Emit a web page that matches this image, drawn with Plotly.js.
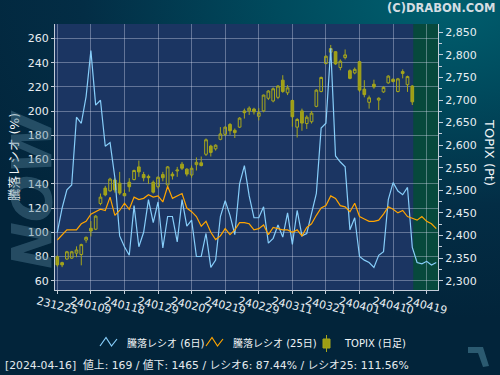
<!DOCTYPE html>
<html><head><meta charset="utf-8">
<script src="https://cdn.plot.ly/plotly-3.0.1.min.js"></script>
<style>
html,body{margin:0;padding:0;}
body{width:500px;height:375px;overflow:hidden;background:radial-gradient(ellipse 110% 85% at 88% 0%, #00606f 0%, #004a5d 30%, #032d45 65%, #02243a 100%);}
#chart{width:500px;height:375px;}
</style></head><body><div id="chart"></div>
<script>
const dates = ['231225','231226','231227','231228','231229','240104','240105','240109','240110','240111','240112','240115','240116','240117','240118','240119','240122','240123','240124','240125','240126','240129','240130','240131','240201','240202','240205','240206','240207','240208','240209','240213','240214','240215','240216','240219','240220','240221','240222','240226','240227','240228','240229','240301','240304','240305','240306','240307','240308','240311','240312','240313','240314','240315','240318','240319','240321','240322','240325','240326','240327','240328','240329','240401','240402','240403','240404','240405','240408','240409','240410','240411','240412','240415','240416','240417','240418','240419','240422','240423'];

const ratio6 = [100,120,135,139,195,190,212,250,205,209,
 171,174,145,97,88,81,122,88,100,127,
 108,125,87,113,113,92,127,105,110,80,
 80,99,71,77,113,126,114,98,140,155,
 130,112,112,121,91,95,106,96,116,90,
 118,97,99,115,132,186,190,252,163,158,
 154,102,112,80,77,75,71,81,84,127,
 141,134,131,137,87.44,75,74,76,73,75];

const ratio25 = [93.6,97.5,102,102,102,107,109,115,117,119,
 118,129,114,118,124,119,129,127,128,131,
 129,130,125,138,128,130,132,120,117,113,
 105,109,100,94,97,103,98,102,108,108,
 107,102,103,106,98,104,103,102,102,100,
 102,97,104,107,114,120,122,130,128,122,
 121,117,124,113,111,109,109,110,115,121,
 119,116,118,113,111.56,110,113,109,107,103];

const topixOpen = [2353,2340,2348,2350,2361,2358,2390,2416,2414,2471,
 2505,2499,2523,2516,2493,2518,2524,2552,2535,2531,
 2518,2508,2535,2512,2536,2543,2558,2547,2534,2557,
 2561,2580,2598,2592,2613,2624,2646,2633,2640,2676,
 2676,2680,2664,2676,2704,2698,2706,2744,2716,2699,
 2640,2676,2648,2652,2686,2719,2781,2806,2807,2772,
 2794,2765,2760,2785,2724,2695,2735,2700,2718,2738,
 2746,2719,2763,2734,2731];
const topixHigh = [2356,2342,2366,2366,2376,2382,2398,2432,2445,2493,
 2510,2528,2527,2541,2502,2527,2546,2566,2541,2535,
 2522,2531,2541,2554,2541,2552,2563,2549,2555,2573,
 2575,2615,2601,2602,2640,2642,2649,2637,2662,2681,
 2686,2683,2682,2712,2722,2728,2733,2755,2733,2701,
 2660,2681,2666,2676,2724,2752,2799,2822,2808,2790,
 2812,2768,2772,2786,2744,2710,2745,2706,2731,2755,
 2748,2749,2768,2754,2733];
const topixLow = [2331,2330,2346,2348,2352,2334,2384,2398,2412,2467,
 2487,2497,2495,2490,2488,2497,2522,2530,2520,2514,
 2493,2504,2520,2510,2524,2530,2545,2531,2528,2544,
 2553,2576,2575,2588,2611,2620,2623,2616,2638,2659,
 2667,2668,2655,2673,2700,2695,2702,2716,2711,2641,
 2617,2632,2636,2648,2684,2717,2779,2800,2778,2766,
 2790,2746,2757,2718,2706,2681,2725,2678,2716,2736,
 2739,2717,2748,2718,2689];
const topixClose = [2335,2335,2364,2364,2368,2380,2396,2410,2443,2485,
 2490,2525,2501,2494,2488,2508,2544,2541,2528,2528,
 2496,2529,2528,2552,2532,2545,2549,2536,2549,2562,
 2555,2612,2584,2600,2625,2640,2632,2628,2660,2672,
 2682,2674,2672,2711,2720,2725,2731,2719,2727,2663,
 2657,2649,2662,2671,2722,2750,2797,2814,2780,2786,
 2800,2748,2768,2722,2712,2705,2729,2704,2728,2753,
 2741,2747,2759,2752,2696];

const advances = 169;
const declines = 1465;
const tickStep = 7;

const idx = dates.map((d, i) => i);
const candleX = idx.slice(0, topixOpen.length);
const lastIdx = topixOpen.length - 1;
const tickvals = idx.filter(i => i % tickStep === 0);
const ticktext = tickvals.map(i => dates[i]);
const xRange = [-0.48, dates.length - 0.64];

const fontFam = "'DejaVu Sans', 'Noto Sans CJK JP', sans-serif";
const gridC = 'rgba(215,222,240,0.38)';
const axC = '#c3ccd8';
const olive = '#a6a61c';

// pixel -> paper helpers for legend/decoration placement
const L = 55, T = 24, W = 383, H = 266;
const px = x => (x - L) / W;
const py = y => (T + H - y) / H;
const zig = (x0) => `M ${px(x0)},${py(346)} L ${px(x0+6)},${py(337.5)} L ${px(x0+11.5)},${py(346)} L ${px(x0+17)},${py(339)}`;

const d = dates[lastIdx];
const footer = `[20${d.slice(0,2)}-${d.slice(2,4)}-${d.slice(4,6)}]  値上: ${advances} / 値下: ${declines} / レシオ6: ${ratio6[lastIdx].toFixed(2)}% / レシオ25: ${ratio25[lastIdx].toFixed(2)}%`;

const traces = [
  {type:'candlestick', x:candleX, open:topixOpen, high:topixHigh, low:topixLow, close:topixClose,
   xaxis:'x', yaxis:'y', name:'TOPIX (日足)', whiskerwidth:0,
   increasing:{line:{color:olive, width:1}, fillcolor:'rgba(0,0,0,0)'},
   decreasing:{line:{color:olive, width:1}, fillcolor:'#9e9e14'}},
  {type:'scatter', mode:'lines', x:idx, y:ratio6, xaxis:'x', yaxis:'y2', name:'騰落レシオ (6日)',
   line:{color:'#87cefa', width:1.2}},
  {type:'scatter', mode:'lines', x:idx, y:ratio25, xaxis:'x', yaxis:'y2', name:'騰落レシオ (25日)',
   line:{color:'#ffa500', width:1.2}}
];

const layout = {
  width:500, height:375,
  margin:{l:L, r:500-L-W, t:T, b:375-T-H, pad:0},
  paper_bgcolor:'rgba(0,0,0,0)',
  plot_bgcolor:'#1b3562',
  showlegend:false,
  boxgap:0.2,
  font:{family:fontFam, size:11, color:'#e8eef2'},
  xaxis:{range:xRange, tickmode:'array', tickvals:tickvals, ticktext:ticktext, tickangle:14,
    ticklabelshift:-20, ticklabelstandoff:-3, ticks:'outside', ticklen:3, tickcolor:axC,
    showgrid:true, gridcolor:gridC, gridwidth:1, showline:true, linecolor:axC, zeroline:false,
    rangeslider:{visible:false}, tickfont:{size:11, color:'#e8eef2'}},
  yaxis:{side:'right', range:[2279.4, 2868.4], tick0:2300, dtick:50, tickformat:',d',
    ticks:'outside', ticklen:4, tickcolor:axC, showgrid:false, showline:true, linecolor:axC, zeroline:false,
    minor:{dtick:25, ticks:'outside', ticklen:3, tickcolor:axC, showgrid:false},
    tickfont:{size:11, color:'#e8eef2'}},
  yaxis2:{overlaying:'y', side:'left', range:[52.33, 271.96], tick0:60, dtick:20,
    ticks:'outside', ticklen:3, tickcolor:axC, showgrid:true, gridcolor:gridC, gridwidth:1,
    showline:true, linecolor:axC, zeroline:false, tickfont:{size:11, color:'#e8eef2'},
    title:{text:'騰落レシオ (%)', font:{size:12.5, color:'#f0f4f6'}, standoff:5}},
  shapes:[
    {type:'rect', xref:'x', yref:'paper', x0:lastIdx+0.2, x1:xRange[1], y0:0, y1:1,
     fillcolor:'#07493c', line:{width:0}, layer:'below'},
    {type:'path', xref:'paper', yref:'paper', path:zig(100), line:{color:'#87cefa', width:1.2}},
    {type:'path', xref:'paper', yref:'paper', path:zig(206), line:{color:'#ffa500', width:1.2}},
    {type:'line', xref:'paper', yref:'paper', x0:px(326.5), x1:px(326.5), y0:py(335), y1:py(352), line:{color:olive, width:1}},
    {type:'rect', xref:'paper', yref:'paper', x0:px(323), x1:px(330), y0:py(348), y1:py(339), fillcolor:'#9e9e14', line:{color:olive, width:1}},
    {type:'path', xref:'paper', yref:'paper', path:`M ${px(468)},${py(347)} L ${px(483)},${py(347)} L ${px(489)},${py(366)} L ${px(483)},${py(367)} L ${px(478)},${py(353)} L ${px(468)},${py(353)} Z`,
     fillcolor:'#2b5a70', line:{width:0}}
  ],
  annotations:[
    {xref:'paper', yref:'paper', x:px(497), y:py(7.5), xanchor:'right', yanchor:'middle', showarrow:false,
     text:'<b>(C)DRABON.COM</b>', font:{family:fontFam, size:11.5, color:'#d4dde2'}},
    {xref:'paper', yref:'paper', x:px(490), y:py(152), xanchor:'center', yanchor:'middle', showarrow:false,
     text:'TOPIX (Pt)', textangle:90, font:{family:fontFam, size:13, color:'#f0f4f6'}},
    {xref:'paper', yref:'paper', x:px(125), y:py(343), xanchor:'left', yanchor:'middle', showarrow:false,
     text:'騰落レシオ (6日)', font:{family:fontFam, size:10, color:'#f0f4f6'}},
    {xref:'paper', yref:'paper', x:px(231), y:py(343), xanchor:'left', yanchor:'middle', showarrow:false,
     text:'騰落レシオ (25日)', font:{family:fontFam, size:10, color:'#f0f4f6'}},
    {xref:'paper', yref:'paper', x:px(342), y:py(343), xanchor:'left', yanchor:'middle', showarrow:false,
     text:'TOPIX (日足)', font:{family:fontFam, size:10, color:'#f0f4f6'}},
    {xref:'paper', yref:'paper', x:px(3), y:py(365), xanchor:'left', yanchor:'middle', showarrow:false,
     text:footer, font:{family:fontFam, size:10.8, color:'#e4eaee'}},
    {xref:'paper', yref:'paper', x:px(31), y:py(190), xanchor:'center', yanchor:'middle', showarrow:false,
     text:'<b><i>NOW</i></b>', textangle:-90, font:{family:fontFam, size:56, color:'rgba(85,130,155,0.42)'}}
  ]
};

Plotly.newPlot('chart', traces, layout, {staticPlot:true, displayModeBar:false});
</script>
</body></html>
